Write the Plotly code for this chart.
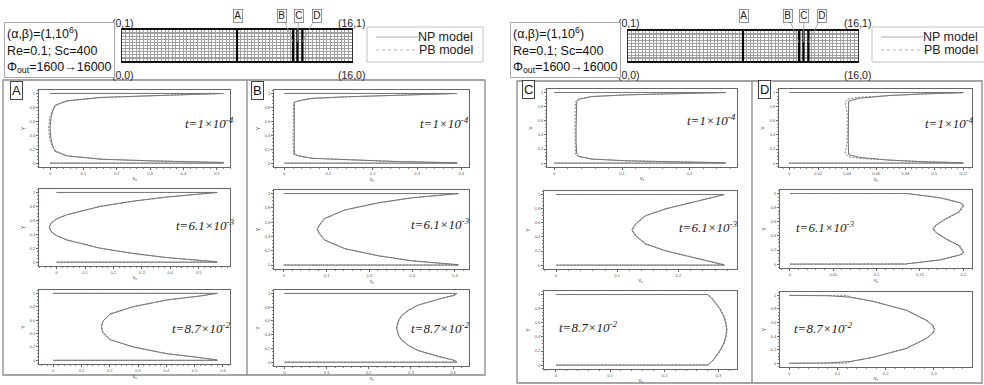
import plotly.graph_objects as go

W, H = 984, 385

# ---------------- data (x = v_x , y = Y) ----------------
# Section A
A1_y  = [0, 0, 0.01, 0.033, 0.057, 0.105, 0.17, 0.25, 0.35, 0.5, 0.65, 0.75, 0.83, 0.895, 0.943, 0.967, 0.99, 1, 1]
A1_np = [0, 0.52, 0.52, 0.30, 0.15, 0.05, 0.015, 0.008, 0.003, 0.0, 0.003, 0.008, 0.015, 0.05, 0.15, 0.30, 0.52, 0.52, 0]
A1_pb = [0, 0.52, 0.52, 0.31, 0.16, 0.055, 0.018, 0.006, -0.001, -0.004, -0.001, 0.006, 0.018, 0.055, 0.16, 0.31, 0.52, 0.52, 0]
A2_y  = [0, 0, 0.005, 0.065, 0.124, 0.2, 0.32, 0.38, 0.44, 0.5, 0.56, 0.62, 0.68, 0.8, 0.876, 0.935, 0.995, 1, 1]
A2_np = [0, 0.565, 0.565, 0.388, 0.27, 0.153, 0.035, 0.0, -0.02, -0.026, -0.02, 0.0, 0.035, 0.153, 0.27, 0.388, 0.565, 0.565, 0]
A2_pb = [0, 0.565, 0.56, 0.39, 0.272, 0.155, 0.036, 0.001, -0.019, -0.025, -0.019, 0.001, 0.036, 0.155, 0.272, 0.39, 0.56, 0.565, 0]
A3_y  = [0, 0, 0.005, 0.04, 0.1, 0.2, 0.31, 0.42, 0.5, 0.58, 0.69, 0.8, 0.9, 0.96, 0.995, 1, 1]
A3_np = [0, 0.58, 0.58, 0.518, 0.4, 0.282, 0.2, 0.175, 0.17, 0.175, 0.2, 0.282, 0.4, 0.518, 0.58, 0.58, 0]
A3_pb = [0, 0.58, 0.575, 0.52, 0.402, 0.284, 0.201, 0.176, 0.171, 0.176, 0.201, 0.284, 0.402, 0.52, 0.575, 0.58, 0]
# Section B
B1_y  = [0, 0, 0.005, 0.024, 0.048, 0.07, 0.105, 0.13, 0.3, 0.5, 0.7, 0.87, 0.895, 0.93, 0.952, 0.976, 0.995, 1, 1]
B1_np = [0, 0.39, 0.39, 0.25, 0.137, 0.062, 0.032, 0.023, 0.0226, 0.0226, 0.0226, 0.023, 0.032, 0.062, 0.137, 0.25, 0.39, 0.39, 0]
B1_pb = [0, 0.39, 0.39, 0.255, 0.142, 0.066, 0.034, 0.021, 0.02, 0.02, 0.02, 0.021, 0.034, 0.066, 0.142, 0.255, 0.39, 0.39, 0]
B2_y  = [0, 0, 0.005, 0.06, 0.13, 0.23, 0.35, 0.44, 0.5, 0.56, 0.65, 0.77, 0.87, 0.94, 0.995, 1, 1]
B2_np = [0, 0.408, 0.408, 0.298, 0.22, 0.142, 0.095, 0.083, 0.078, 0.083, 0.095, 0.142, 0.22, 0.298, 0.408, 0.408, 0]
B2_pb = [0, 0.408, 0.403, 0.3, 0.222, 0.143, 0.096, 0.084, 0.079, 0.084, 0.096, 0.143, 0.222, 0.3, 0.403, 0.408, 0]
B3_y  = [0, 0, 0.005, 0.025, 0.084, 0.17, 0.24, 0.32, 0.4, 0.5, 0.6, 0.68, 0.76, 0.83, 0.916, 0.975, 0.995, 1, 1]
B3_np = [0, 0.409, 0.409, 0.405, 0.365, 0.317, 0.295, 0.278, 0.27, 0.266, 0.27, 0.278, 0.295, 0.317, 0.365, 0.405, 0.409, 0.409, 0]
B3_pb = [0, 0.409, 0.404, 0.402, 0.366, 0.318, 0.296, 0.279, 0.271, 0.267, 0.271, 0.279, 0.296, 0.318, 0.366, 0.402, 0.404, 0.409, 0]
# Section C
C1_y  = [0, 0, 0.005, 0.018, 0.033, 0.057, 0.095, 0.13, 0.3, 0.5, 0.7, 0.87, 0.905, 0.943, 0.967, 0.982, 0.995, 1, 1]
C1_np = [0, 0.253, 0.253, 0.18, 0.105, 0.055, 0.036, 0.033, 0.032, 0.032, 0.032, 0.033, 0.036, 0.055, 0.105, 0.18, 0.253, 0.253, 0]
C1_pb = [0, 0.253, 0.253, 0.183, 0.108, 0.057, 0.035, 0.031, 0.0305, 0.0305, 0.0305, 0.031, 0.035, 0.057, 0.108, 0.183, 0.253, 0.253, 0]
C2_y  = [0, 0, 0.005, 0.1, 0.2, 0.3, 0.4, 0.45, 0.5, 0.55, 0.6, 0.7, 0.8, 0.9, 0.995, 1, 1]
C2_np = [0, 0.275, 0.275, 0.228, 0.18, 0.146, 0.132, 0.127, 0.124, 0.127, 0.132, 0.146, 0.18, 0.228, 0.275, 0.275, 0]
C2_pb = [0, 0.275, 0.271, 0.229, 0.181, 0.147, 0.133, 0.128, 0.125, 0.128, 0.133, 0.147, 0.181, 0.229, 0.271, 0.275, 0]
C3_y  = [0, 0, 0.005, 0.05, 0.1, 0.2, 0.3, 0.4, 0.5, 0.6, 0.7, 0.8, 0.9, 0.95, 0.995, 1, 1]
C3_np = [0, 0.28, 0.28, 0.287, 0.293, 0.302, 0.309, 0.313, 0.315, 0.313, 0.309, 0.302, 0.293, 0.287, 0.28, 0.28, 0]
C3_pb = [0, 0.28, 0.281, 0.288, 0.294, 0.303, 0.31, 0.314, 0.316, 0.314, 0.31, 0.303, 0.294, 0.288, 0.281, 0.28, 0]
# Section D
D1_y_np = [0, 0, 0.005, 0.02, 0.042, 0.08, 0.12, 0.3, 0.5, 0.7, 0.88, 0.92, 0.958, 0.98, 0.995, 1, 1]
D1_np   = [0, 0.12, 0.12, 0.092, 0.069, 0.0487, 0.041, 0.0407, 0.0407, 0.0407, 0.041, 0.0487, 0.069, 0.092, 0.12, 0.12, 0]
D1_y_pb = [0, 0, 0.005, 0.02, 0.042, 0.066, 0.09, 0.137, 0.3, 0.5, 0.7, 0.863, 0.91, 0.934, 0.958, 0.98, 0.995, 1, 1]
D1_pb   = [0, 0.12, 0.12, 0.092, 0.069, 0.0487, 0.0407, 0.0386, 0.040, 0.040, 0.040, 0.0386, 0.0407, 0.0487, 0.069, 0.092, 0.12, 0.12, 0]
D2_y  = [0, 0, 0.005, 0.06, 0.13, 0.165, 0.26, 0.355, 0.45, 0.5, 0.55, 0.645, 0.74, 0.835, 0.87, 0.94, 0.995, 1, 1]
D2_np = [0, 0.135, 0.135, 0.173, 0.196, 0.2, 0.195, 0.18, 0.168, 0.165, 0.168, 0.18, 0.195, 0.2, 0.196, 0.173, 0.135, 0.135, 0]
D2_pb = [0, 0.135, 0.137, 0.174, 0.197, 0.201, 0.196, 0.181, 0.169, 0.166, 0.169, 0.181, 0.196, 0.201, 0.197, 0.174, 0.137, 0.135, 0]
D3_y_np = [0, 0.005, 0.025, 0.088, 0.22, 0.366, 0.44, 0.5, 0.56, 0.634, 0.78, 0.912, 0.975, 0.995, 1]
D3_np   = [0, 0.08, 0.126, 0.174, 0.243, 0.284, 0.297, 0.301, 0.297, 0.284, 0.243, 0.174, 0.126, 0.08, 0]
D3_y_pb = [0, 0, 0.025, 0.088, 0.22, 0.366, 0.44, 0.5, 0.56, 0.634, 0.78, 0.912, 0.975, 1, 1]
D3_pb   = [0, 0.12, 0.127, 0.175, 0.244, 0.285, 0.298, 0.302, 0.298, 0.285, 0.244, 0.175, 0.127, 0.12, 0]

# tick labels
Y_TICKS = ["0", "0.2", "0.4", "0.6", "0.8", "1"]
A1_xt = ["0", "0.1", "0.2", "0.3", "0.4", "0.5"]
A2_xt = ["0", "0.1", "0.2", "0.3", "0.4", "0.5"]
A3_xt = ["0", "0.1", "0.2", "0.3", "0.4", "0.5", "0.6"]
B1_xt = ["0", "0.1", "0.2", "0.3", "0.4"]
B2_xt = ["0", "0.1", "0.2", "0.3", "0.4"]
B3_xt = ["0", "0.1", "0.2", "0.3", "0.4"]
C1_xt = ["0", "0.1", "0.2"]
C2_xt = ["0", "0.1", "0.2"]
C3_xt = ["0", "0.1", "0.2", "0.3"]
D1_xt = ["0", "0.02", "0.04", "0.06", "0.08", "0.1", "0.12"]
D2_xt = ["0", "0.05", "0.1", "0.15", "0.2"]
D3_xt = ["0", "0.1", "0.2", "0.3"]

TIMES = ["<i>t=1×10<sup>-4</sup></i>", "<i>t=6.1×10<sup>-3</sup></i>", "<i>t=8.7×10<sup>-2</sup></i>"]
SECTION_NAMES = ["A", "B", "C", "D"]
SECTION_X = [8.0, 11.9, 12.2, 12.55]
MESH_Y_LINES = [0.03, 0.07, 0.12, 0.2, 0.3, 0.4, 0.5, 0.6, 0.7, 0.8, 0.88, 0.93, 0.97]
INFO = "(α,β)=(1,10<sup>6</sup>)<br>Re=0.1; Sc=400<br>Φ<sub>out</sub>=1600→16000"
MODEL_NAMES = ["NP model", "PB model"]

# ---------------- layout helpers ----------------
def px_x(p):
    return p / W

def px_y(p):
    return 1 - p / H

def label(text, cx, cy, **kw):
    d = dict(text=text, x=px_x(cx), y=px_y(cy), xref="paper", yref="paper",
             xanchor="center", yanchor="middle", showarrow=False)
    d.update(kw)
    return d

NP_LINE = dict(color="#4a4a4a", width=0.8)
PB_LINE = dict(color="#808080", width=1, dash="2px,1.5px")

panels = [
    # key, np x, np y, pb x, pb y, ticks, range, box(x0,x1,y0,y1), time idx, time pos
    ("A1", A1_np, A1_y, A1_pb, A1_y, A1_xt, (-0.033, 0.54), (39, 230, 90, 167), 0, (209, 123)),
    ("A2", A2_np, A2_y, A2_pb, A2_y, A2_xt, (-0.062, 0.61), (39, 230, 189, 266), 1, (205, 225)),
    ("A3", A3_np, A3_y, A3_pb, A3_y, A3_xt, (-0.05, 0.625), (39, 230, 290, 364), 2, (201, 328)),
    ("B1", B1_np, B1_y, B1_pb, B1_y, B1_xt, (-0.023, 0.417), (274, 469, 90, 167), 0, (444, 123)),
    ("B2", B2_np, B2_y, B2_pb, B2_y, B2_xt, (-0.023, 0.433), (274, 469, 190, 269), 1, (440, 224)),
    ("B3", B3_np, B3_y, B3_pb, B3_y, B3_xt, (-0.025, 0.438), (274, 469, 290, 366), 2, (440, 328)),
    ("C1", C1_np, C1_y, C1_pb, C1_y, C1_xt, (-0.011, 0.27), (547, 737, 89, 167), 0, (711, 120)),
    ("C2", C2_np, C2_y, C2_pb, C2_y, C2_xt, (-0.02, 0.296), (544, 737, 191, 269), 1, (708, 227)),
    ("C3", C3_np, C3_y, C3_pb, C3_y, C3_xt, (-0.022, 0.334), (544, 737, 291, 369), 2, (588, 327)),
    ("D1", D1_np, D1_y_np, D1_pb, D1_y_pb, D1_xt, (-0.007, 0.126), (779, 972, 89, 167), 0, (949, 123)),
    ("D2", D2_np, D2_y, D2_pb, D2_y, D2_xt, (-0.0115, 0.21), (780, 972, 190, 268), 1, (825, 227)),
    ("D3", D3_np, D3_y_np, D3_pb, D3_y_pb, D3_xt, (-0.019, 0.379), (780, 972, 292, 367), 2, (823, 328)),
]

fig = go.Figure()
annotations = []
shapes = []
layout_axes = {}

for i, (key, xn, yn, xp, yp, xt, xr, box, ti, tpos) in enumerate(panels, start=1):
    sfx = "" if i == 1 else str(i)
    fig.add_trace(go.Scatter(
        x=xn, y=yn, mode="lines", name=MODEL_NAMES[0], showlegend=False,
        line=NP_LINE, xaxis="x" + sfx, yaxis="y" + sfx, hoverinfo="skip"))
    fig.add_trace(go.Scatter(
        x=xp, y=yp, mode="lines", name=MODEL_NAMES[1], showlegend=False,
        line=PB_LINE, xaxis="x" + sfx, yaxis="y" + sfx, hoverinfo="skip"))
    tv = [float(t) for t in xt]
    step = tv[1] - tv[0]
    x0, x1, y0, y1 = box
    layout_axes["xaxis" + sfx] = dict(
        domain=[px_x(x0), px_x(x1)], range=list(xr), anchor="y" + sfx,
        tickvals=tv, ticktext=xt, tickfont=dict(size=4, color="#555"),
        ticks="outside", ticklen=2, tickwidth=0.5, tickcolor="#666",
        minor=dict(ticks="outside", ticklen=1, dtick=step / 5, tick0=0, tickcolor="#888", tickwidth=0.5),
        showline=True, mirror=True, linecolor="#666", linewidth=1,
        showgrid=False, zeroline=False,
        title=dict(text="v<sub>x</sub>", font=dict(size=5, color="#444"), standoff=1))
    layout_axes["yaxis" + sfx] = dict(
        domain=[px_y(y1), px_y(y0)], range=[-0.055, 1.05], anchor="x" + sfx,
        tickvals=[float(t) for t in Y_TICKS], ticktext=Y_TICKS, tickfont=dict(size=4, color="#555"),
        ticks="outside", ticklen=2, tickwidth=0.5, tickcolor="#666",
        minor=dict(ticks="outside", ticklen=1, dtick=0.05, tick0=0, tickcolor="#888", tickwidth=0.5),
        showline=True, mirror=True, linecolor="#666", linewidth=1,
        showgrid=False, zeroline=False,
        title=dict(text="Y", font=dict(size=5, color="#444"), standoff=3))
    annotations.append(label(TIMES[ti], tpos[0], tpos[1],
                             font=dict(family="Liberation Serif", size=13, color="#222")))

# ---------------- header: info box, mesh diagram, legend ----------------
FONT = "Liberation Sans"
headers = [
    dict(mesh=(122, 352, 30, 61), info_x=4, labels=[238, 282, 298.5, 316.5], leg=(367, 483), corner_dx=0),
    dict(mesh=(628, 858, 31, 61), info_x=510, labels=[743.5, 788, 804, 821.5], leg=(872, 990), corner_dx=506),
]
for j, hd in enumerate(headers):
    mx0, mx1, my0, my1 = hd["mesh"]
    n = 13 + j
    sx, sy = "x" + str(n), "y" + str(n)
    layout_axes["xaxis" + str(n)] = dict(
        domain=[px_x(mx0), px_x(mx1)], range=[0, 16], anchor=sy,
        showgrid=True, dtick=0.25, tick0=0, gridcolor="#a0a0a0", gridwidth=0.5,
        showticklabels=False, ticks="", zeroline=False,
        showline=True, mirror=True, linecolor="#111", linewidth=2)
    layout_axes["yaxis" + str(n)] = dict(
        domain=[px_y(my1), px_y(my0)], range=[0, 1], anchor=sx,
        tickvals=MESH_Y_LINES, showgrid=True, gridcolor="#a0a0a0", gridwidth=0.5,
        showticklabels=False, ticks="", zeroline=False,
        showline=True, mirror=True, linecolor="#333", linewidth=1)
    xs, ys = [], []
    for sxv in SECTION_X:
        xs += [sxv, sxv, None]
        ys += [0, 1, None]
    fig.add_trace(go.Scatter(x=xs, y=ys, mode="lines", line=dict(color="#000", width=2.2),
                             xaxis=sx, yaxis=sy, showlegend=False, hoverinfo="skip"))
    dx = hd["corner_dx"]
    for txt, cx, cy in [("(0,1)", 123 + dx, 23), ("(0,0)", 123 + dx, 75),
                        ("(16,1)", 351 + dx, 23), ("(16,0)", 351 + dx, 75)]:
        annotations.append(label(txt, cx, cy, font=dict(family=FONT, size=10.5, color="#222")))
    for k, name in enumerate(SECTION_NAMES):
        bx = hd["labels"][k]
        common = dict(font=dict(family=FONT, size=10, color="#222"),
                      bordercolor="#777", borderwidth=0.8, borderpad=0.5, bgcolor="white")
        if k == 0:
            annotations.append(label(name, bx, 16, **common))
        else:
            tip_px = mx0 + SECTION_X[k] / 16 * (mx1 - mx0)
            annotations.append(dict(text=name, x=SECTION_X[k], y=0.62, xref=sx, yref=sy,
                                    ax=bx - tip_px, ay=16 - 42, showarrow=True, arrowhead=0,
                                    arrowwidth=0.8, arrowcolor="#9a9a9a", **common))
    annotations.append(dict(text=INFO, x=px_x(hd["info_x"]), y=px_y(22), xref="paper", yref="paper",
                            xanchor="left", yanchor="top", align="left", showarrow=False,
                            font=dict(family=FONT, size=12.5, color="#111"),
                            bordercolor="#aaa", borderwidth=1, borderpad=2, bgcolor="white"))
    # legend (drawn manually: box, line samples, names)
    lx0, lx1 = hd["leg"]
    shapes.append(dict(type="rect", xref="paper", yref="paper",
                       x0=px_x(lx0), x1=px_x(lx1), y0=px_y(62), y1=px_y(27),
                       line=dict(color="#c0c0c0", width=1)))
    for m, (nm, st) in enumerate(zip(MODEL_NAMES, [dict(color="#b0b0b0", width=1),
                                                     dict(color="#b0b0b0", width=1, dash="dot")])):
        yy = 37 + 13 * m
        shapes.append(dict(type="line", xref="paper", yref="paper",
                           x0=px_x(lx0 + 9), x1=px_x(lx0 + 51), y0=px_y(yy), y1=px_y(yy), line=st))
        annotations.append(label(nm, lx0 + 108, yy, xanchor="right",
                                 font=dict(family=FONT, size=12.5, color="#222")))

# panel letters
for name, cx, cy in [("A", 16.5, 91), ("B", 257, 91), ("C", 528, 90), ("D", 764, 90)]:
    annotations.append(label(name, cx, cy, font=dict(family=FONT, size=13, color="#111"),
                             bordercolor="#444", borderwidth=1, borderpad=1, bgcolor="white"))

for (fx0, fx1, fy0, fy1, dv) in [(3, 485, 80, 375, 247), (517, 982, 81, 383, 752)]:
    shapes.append(dict(type="rect", xref="paper", yref="paper",
                       x0=px_x(fx0), x1=px_x(fx1), y0=px_y(fy1), y1=px_y(fy0),
                       line=dict(color="#888", width=1.3)))
    shapes.append(dict(type="line", xref="paper", yref="paper",
                       x0=px_x(dv), x1=px_x(dv), y0=px_y(fy1), y1=px_y(fy0),
                       line=dict(color="#888", width=1.3)))

fig.update_layout(
    width=W, height=H, margin=dict(l=0, r=0, t=0, b=0),
    paper_bgcolor="white", plot_bgcolor="white",
    font=dict(family=FONT), showlegend=False,
    annotations=annotations, shapes=shapes,
    **layout_axes,
)

fig.write_html("out.html", config={"displayModeBar": False},
               post_script="document.body.style.margin='0';document.body.style.padding='0';")
